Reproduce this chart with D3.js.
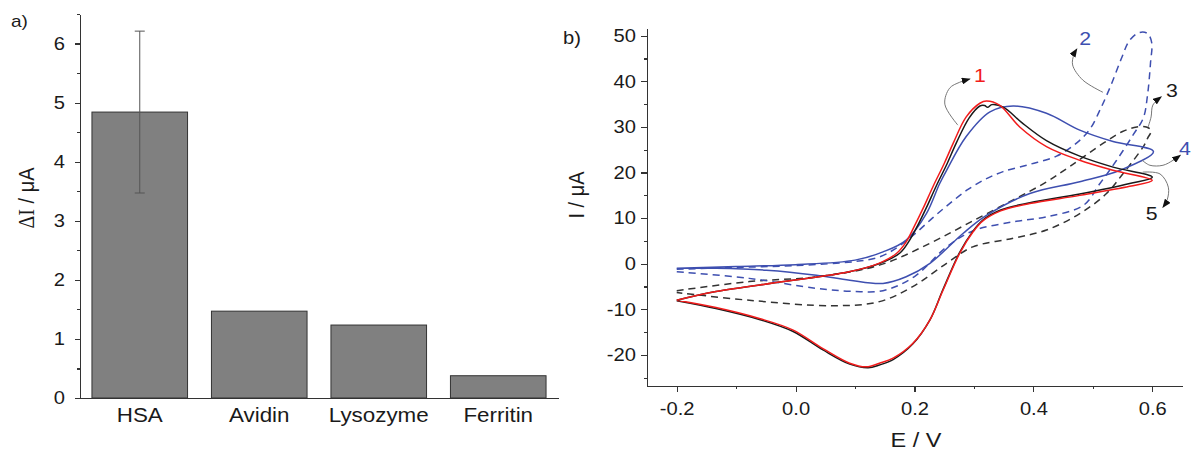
<!DOCTYPE html>
<html>
<head>
<meta charset="utf-8">
<script src="https://cdn.jsdelivr.net/npm/d3@7"></script>
<style>
    body { margin: 0; background: #fff; }
    svg text { font-family: "Liberation Sans", Arial, sans-serif; fill: #1a1a1a; }
    .axis path, .axis line { stroke: #333; stroke-width: 1.2; shape-rendering: crispEdges; }
    .axis text { font-size: 18px; fill: #1a1a1a; }
</style>
</head>
<body>
<div id="chart"></div>
<script>
// ---- panel a) : current change per protein
const proteins = ["HSA", "Avidin", "Lysozyme", "Ferritin"];
const deltaI = [4.84, 1.47, 1.235, 0.377];
const deltaIErr = [1.37, 0, 0, 0];
const barTicks = [0, 1, 2, 3, 4, 5, 6];

// ---- panel b) : cyclic voltammograms, [E / V, I / uA]
const cv1 = [ // red, solid
    [-0.2, -8.0], [-0.134, -6.1], [-0.02, -3.9], [0.09, -1.75], [0.14, 0.1], [0.17, 2.3],
    [0.186, 4.8], [0.2, 8.3], [0.215, 12.3], [0.231, 16.9], [0.25, 22], [0.265, 26.4],
    [0.287, 32.2], [0.31, 35.2], [0.321, 35.7], [0.343, 34.8], [0.377, 30], [0.422, 25.7],
    [0.478, 22.7], [0.534, 20.5], [0.6, 18.3],
    [0.562, 17.0], [0.478, 15.0], [0.394, 13.2], [0.345, 11.6], [0.315, 9.4], [0.298, 6.9],
    [0.276, 2.3], [0.248, -5.8], [0.226, -12.3], [0.197, -17.5], [0.164, -20.7], [0.141, -21.8],
    [0.119, -22.6], [0.091, -21.8], [0.046, -18.6], [-0.005, -14.5], [-0.061, -12], [-0.134, -9.6],
    [-0.2, -8.0]
];
const cv2 = [ // blue, dashed
    [-0.2, -1.2], [-0.1, -0.8], [0.0, -0.4], [0.1, 0.5], [0.141, 1.5], [0.17, 3.5], [0.2, 6.5],
    [0.23, 10.0], [0.26, 13.3], [0.29, 16.3], [0.32, 18.6], [0.349, 20.2], [0.394, 21.8],
    [0.439, 23.6], [0.473, 26.5], [0.495, 29.5], [0.513, 34], [0.53, 39], [0.548, 45], [0.562, 49],
    [0.578, 50.7], [0.592, 50.5], [0.599, 48.5],
    [0.597, 44], [0.592, 37], [0.585, 32], [0.568, 28.3], [0.54, 22.7], [0.512, 17.6], [0.484, 12.8],
    [0.422, 10.3], [0.366, 9.2], [0.298, 7.2], [0.254, 3.7], [0.2, -2.8], [0.147, -5.9],
    [0.091, -6.0], [0.035, -5.4], [-0.078, -3.2], [-0.2, -1.75]
];
const cv3 = [ // black, dashed
    [-0.2, -5.9], [-0.078, -3.9], [0.035, -2.85], [0.141, -0.3], [0.226, 4.5], [0.298, 9.4],
    [0.366, 14], [0.42, 17.8], [0.461, 21.3], [0.517, 26.4], [0.55, 29], [0.574, 30], [0.59, 30],
    [0.598, 29.2],
    [0.592, 27.5], [0.585, 25.7], [0.551, 19.8], [0.523, 15.4], [0.478, 11], [0.422, 7.4],
    [0.366, 5.6], [0.298, 3.7], [0.254, 0.1], [0.197, -5], [0.141, -8.3], [0.063, -9.2],
    [-0.078, -8], [-0.2, -6.3]
];
const cv4 = [ // blue, solid
    [-0.2, -1.0], [-0.1, -0.6], [0.0, -0.2], [0.1, 0.8], [0.147, 2.6], [0.186, 5.2], [0.22, 11],
    [0.242, 17.5], [0.254, 20.5], [0.287, 27.9], [0.327, 33.3], [0.366, 34.6], [0.422, 33],
    [0.478, 29.3], [0.534, 26.8], [0.602, 24.6],
    [0.546, 20.5], [0.478, 18], [0.394, 15.4], [0.321, 10.6], [0.282, 6.7], [0.226, 0.1],
    [0.186, -2.85], [0.147, -4.3], [0.091, -3.6], [0.035, -2.5], [-0.049, -1.4], [-0.134, -1.0],
    [-0.2, -1.0]
];
const cv5 = [ // black, solid
    [-0.2, -8.0], [-0.134, -6.1], [-0.02, -3.9], [0.09, -1.75], [0.14, 0.0], [0.175, 2.3],
    [0.19, 4.8], [0.205, 8.3], [0.22, 12.3], [0.236, 16.9], [0.255, 22], [0.27, 26.4], [0.292, 32],
    [0.31, 34.6], [0.318, 34.7], [0.323, 34.3], [0.33, 34.9], [0.35, 34.3], [0.38, 31], [0.422, 27],
    [0.478, 23.6], [0.534, 21.2], [0.6, 19.0],
    [0.562, 17.6], [0.478, 15.3], [0.394, 13.4], [0.345, 11.8], [0.315, 9.6], [0.298, 7.1],
    [0.276, 2.5], [0.248, -5.6], [0.226, -12.3], [0.197, -17.6], [0.164, -21], [0.141, -22.2],
    [0.122, -22.8], [0.091, -22], [0.046, -18.9], [-0.005, -14.8], [-0.061, -12.2], [-0.134, -9.8],
    [-0.2, -8.1]
];
const cvXTicks = [-0.2, 0.0, 0.2, 0.4, 0.6];
const cvYTicks = [-20, -10, 0, 10, 20, 30, 40, 50];

// curve labels and their arrows, in data units
const curveLabels = ["1", "2", "3", "4", "5"];
const labelPos = [[0.31, 39.8], [0.487, 48.0], [0.633, 36.6], [0.655, 23.8], [0.599, 9.6]];
const arrowPaths = [
    [[0.273, 30.4], [0.251, 35.0], [0.259, 38.5], [0.276, 39.8], [0.293, 40.5]],
    [[0.517, 37.6], [0.483, 40.3], [0.466, 43.6], [0.468, 45.8], [0.473, 47.1]],
    [[0.593, 30.0], [0.598, 32.2], [0.601, 34.8], [0.615, 36.6]],
    [[0.583, 22.7], [0.596, 21.6], [0.618, 21.6], [0.635, 22.7], [0.647, 23.8]],
    [[0.584, 20.1], [0.613, 19.7], [0.627, 16.8], [0.625, 14.0], [0.618, 12.4]]
];

const red = "#f21c1c", blue = "#3e4fb0", black = "#1a1a1a";
const SX = 1.12; // the original lettering is a little wider than Arial

// widen text horizontally, keeping its anchor point
function widen(sel) {
    sel.each(function () {
        const t = d3.select(this);
        const x = +t.attr("x") || 0;
        t.attr("x", x / SX).attr("transform", `scale(${SX},1)`);
    });
}

const svg = d3.select("#chart").append("svg")
    .attr("width", 1192)
    .attr("height", 452);

svg.append("defs").append("marker")
    .attr("id", "head")
    .attr("markerUnits", "userSpaceOnUse")
    .attr("markerWidth", 9).attr("markerHeight", 7)
    .attr("refX", 8).attr("refY", 3.5)
    .attr("orient", "auto")
    .append("path")
    .attr("d", "M0,0 L9,3.5 L0,7 Z")
    .attr("fill", "#111");

/*
 * panel a) bars
 */
const xA = d3.scaleBand().domain(proteins).range([80, 558]).paddingInner(0.2).paddingOuter(0.1);
const yA = d3.scaleLinear().domain([0, 6.5]).range([398, 14]);

const gA = svg.append("g");

gA.selectAll(".bar")
    .data(proteins)
    .enter().append("rect")
    .attr("class", "bar")
    .attr("x", d => xA(d))
    .attr("width", xA.bandwidth())
    .attr("y", (d, i) => yA(deltaI[i]))
    .attr("height", (d, i) => yA(0) - yA(deltaI[i]))
    .attr("fill", "#808080")
    .attr("stroke", "#333")
    .attr("stroke-width", 1);

// error bars
const errs = proteins.map((p, i) => ({p: p, v: deltaI[i], e: deltaIErr[i]})).filter(d => d.e > 0);
const eb = gA.selectAll(".err").data(errs).enter().append("g").attr("class", "err")
    .attr("stroke", "#555").attr("stroke-width", 1);
eb.append("line")
    .attr("x1", d => xA(d.p) + xA.bandwidth() / 2).attr("x2", d => xA(d.p) + xA.bandwidth() / 2)
    .attr("y1", d => yA(d.v + d.e)).attr("y2", d => yA(d.v - d.e));
[1, -1].forEach(s => {
    eb.append("line")
        .attr("x1", d => xA(d.p) + xA.bandwidth() / 2 - 5).attr("x2", d => xA(d.p) + xA.bandwidth() / 2 + 5)
        .attr("y1", d => yA(d.v + s * d.e)).attr("y2", d => yA(d.v + s * d.e));
});

gA.append("g").attr("class", "axis")
    .attr("transform", "translate(80,0)")
    .call(d3.axisLeft(yA).tickValues(barTicks).tickSize(5).tickPadding(10).tickSizeOuter(0)
        .tickFormat(d => String(d)))
    .selectAll("text").call(widen);
gA.append("g").attr("class", "axis")
    .attr("transform", "translate(80,0)")
    .call(d3.axisLeft(yA).tickValues(d3.range(0.5, 6.6, 1)).tickSize(3).tickFormat("").tickSizeOuter(0));
gA.append("g").attr("class", "axis")
    .attr("transform", "translate(0,398)")
    .call(d3.axisBottom(xA).tickSize(0).tickPadding(10).tickSizeOuter(0))
    .selectAll("text").style("font-size", "20px").call(widen);

const yLabA = gA.append("text")
    .attr("transform", `translate(34,198) rotate(-90) scale(1,${SX})`)
    .attr("text-anchor", "middle")
    .style("font-size", "20px");
yLabA.append("tspan").style("font-family", "'Liberation Serif', 'Times New Roman', serif").text("ΔI");
yLabA.append("tspan").text(" / μA");

gA.append("text").attr("x", 11).attr("y", 27).style("font-size", "17px").text("a)").call(widen);

/*
 * panel b) voltammograms
 */
const xB = d3.scaleLinear().domain([-0.25, 0.65]).range([647, 1182]);
const yB = d3.scaleLinear().domain([-26.8, 51.7]).range([386, 28]);

const gB = svg.append("g");

const line = d3.line()
    .x(d => xB(d[0]))
    .y(d => yB(d[1]))
    .curve(d3.curveCatmullRom.alpha(0.5));

const series = [
    {data: cv3, color: "#333", dash: "7,5"},
    {data: cv2, color: blue, dash: "7,5"},
    {data: cv4, color: blue, dash: null},
    {data: cv5, color: black, dash: null},
    {data: cv1, color: red, dash: null}
];

gB.selectAll(".cv")
    .data(series)
    .enter().append("path")
    .attr("class", "cv")
    .attr("d", d => line(d.data))
    .attr("fill", "none")
    .attr("stroke", d => d.color)
    .attr("stroke-width", 1.5)
    .attr("stroke-dasharray", d => d.dash);

// annotations
gB.selectAll(".arrow")
    .data(arrowPaths)
    .enter().append("path")
    .attr("class", "arrow")
    .attr("d", line)
    .attr("fill", "none")
    .attr("stroke", "#777")
    .attr("stroke-width", 1)
    .attr("marker-end", "url(#head)");

const labelColors = [red, blue, black, blue, black];
gB.selectAll(".clabel")
    .data(curveLabels)
    .enter().append("text")
    .attr("class", "clabel")
    .attr("x", (d, i) => xB(labelPos[i][0]))
    .attr("y", (d, i) => yB(labelPos[i][1]))
    .attr("text-anchor", "middle")
    .style("font-size", "19px")
    .style("fill", (d, i) => labelColors[i])
    .text(d => d)
    .call(widen);

// axes
gB.append("g").attr("class", "axis")
    .attr("transform", "translate(0,386)")
    .call(d3.axisBottom(xB).tickValues(cvXTicks).tickSize(6).tickPadding(10).tickSizeOuter(0)
        .tickFormat(d => d.toFixed(1)))
    .selectAll("text").call(widen);
gB.append("g").attr("class", "axis")
    .attr("transform", "translate(0,386)")
    .call(d3.axisBottom(xB).tickValues([-0.1, 0.1, 0.3, 0.5]).tickSize(3).tickFormat("").tickSizeOuter(0));
gB.append("g").attr("class", "axis")
    .attr("transform", "translate(647,0)")
    .call(d3.axisLeft(yB).tickValues(cvYTicks).tickSize(6).tickPadding(5).tickSizeOuter(0)
        .tickFormat(d => String(d)))
    .selectAll("text").call(widen);
gB.append("g").attr("class", "axis")
    .attr("transform", "translate(647,0)")
    .call(d3.axisLeft(yB).tickValues(d3.range(-25, 50, 10)).tickSize(3).tickFormat("").tickSizeOuter(0));

gB.append("text")
    .attr("transform", `translate(584,195) rotate(-90) scale(1,${SX})`)
    .attr("text-anchor", "middle")
    .style("font-size", "20px")
    .text("I / μA");

gB.append("text")
    .attr("x", 916).attr("y", 447)
    .attr("text-anchor", "middle")
    .style("font-size", "21px")
    .text("E / V")
    .call(widen);

gB.append("text").attr("x", 563).attr("y", 44).style("font-size", "18px").text("b)").call(widen);
</script>
</body>
</html>
